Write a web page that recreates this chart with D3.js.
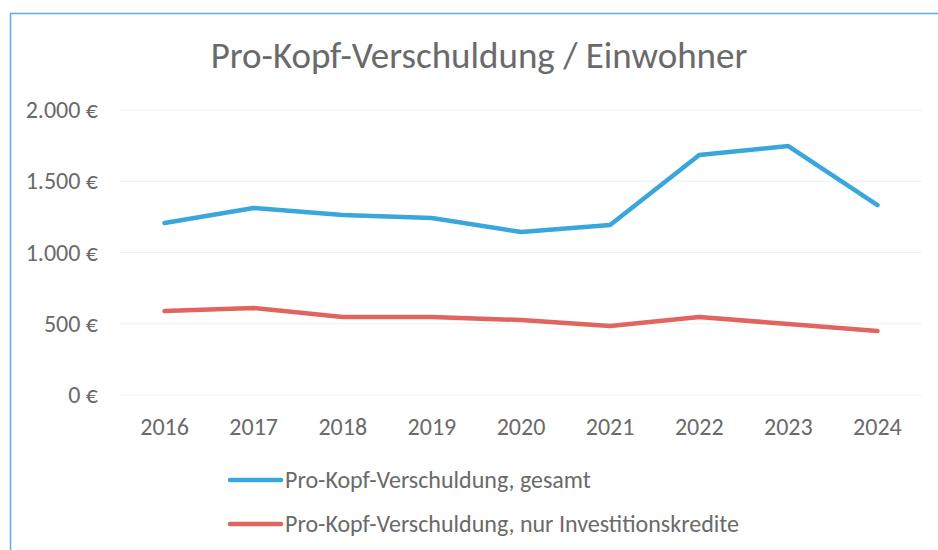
<!DOCTYPE html>
<html>
<head>
<meta charset="utf-8">
<script src="https://cdn.jsdelivr.net/npm/d3@7"></script>
<style>
  html, body { margin: 0; padding: 0; background: #ffffff; }
  svg text { font-family: "Carlito", "Liberation Sans Narrow", "Open Sans", sans-serif; }
</style>
</head>
<body>
<svg id="chart" width="938" height="550"></svg>
<script>
const title = "Pro-Kopf-Verschuldung / Einwohner";
const years = ["2016", "2017", "2018", "2019", "2020", "2021", "2022", "2023", "2024"];
const gesamt = [1207, 1312, 1263, 1242, 1144, 1193, 1684, 1747, 1333];
const investition = [589, 610, 547, 547, 526, 484, 547, 498, 449];
const yTicks = [0, 500, 1000, 1500, 2000];
const seriesNames = ["Pro-Kopf-Verschuldung, gesamt", "Pro-Kopf-Verschuldung, nur Investitionskredite"];
const seriesColors = ["#39a6dc", "#e0655e"];

const svg = d3.select("#chart");
const textColor = "#6a6a6a";

// border (cropped chart frame)
svg.append("path")
  .attr("d", "M10.5,550 L10.5,13.5 L938,13.5")
  .attr("fill", "none")
  .attr("stroke", "#5aaee0")
  .attr("stroke-width", 1.5);

const x = d3.scaleBand().domain(years).range([120, 922]);
const y = d3.scaleLinear().domain([0, 2000]).range([395, 110]);

// gridlines
svg.append("g")
  .selectAll("line")
  .data(yTicks)
  .join("line")
  .attr("x1", 120).attr("x2", 922)
  .attr("y1", d => y(d)).attr("y2", d => y(d))
  .attr("stroke", "#f0f0f0")
  .attr("stroke-width", 1);

const fmt = v => d3.format(",")(v).replace(/,/g, ".") + " €";

// y axis labels
svg.append("g")
  .selectAll("text")
  .data(yTicks)
  .join("text")
  .attr("x", 98)
  .attr("y", d => y(d) + 8)
  .attr("text-anchor", "end")
  .attr("fill", textColor)
  .attr("font-size", 24)
  .text(fmt);

// x axis labels
svg.append("g")
  .selectAll("text")
  .data(years)
  .join("text")
  .attr("x", d => x(d) + x.bandwidth() / 2)
  .attr("y", 435)
  .attr("text-anchor", "middle")
  .attr("fill", textColor)
  .attr("font-size", 24)
  .text(d => d);

// lines
const line = d3.line()
  .x((d, i) => x(years[i]) + x.bandwidth() / 2)
  .y(d => y(d));

[gesamt, investition].forEach((s, k) => {
  svg.append("path")
    .datum(s)
    .attr("d", line)
    .attr("fill", "none")
    .attr("stroke", seriesColors[k])
    .attr("stroke-width", 4.5)
    .attr("stroke-linejoin", "round")
    .attr("stroke-linecap", "round");
});

// title
svg.append("text")
  .attr("x", 479)
  .attr("y", 68)
  .attr("text-anchor", "middle")
  .attr("fill", textColor)
  .attr("font-size", 37)
  .text(title);

// legend
const legendY = [480, 524];
seriesNames.forEach((name, k) => {
  svg.append("line")
    .attr("x1", 230).attr("x2", 281)
    .attr("y1", legendY[k]).attr("y2", legendY[k])
    .attr("stroke", seriesColors[k])
    .attr("stroke-width", 4.5)
    .attr("stroke-linecap", "round");
  svg.append("text")
    .attr("x", 285)
    .attr("y", legendY[k] + 8)
    .attr("fill", textColor)
    .attr("font-size", 24)
    .text(name);
});
</script>
</body>
</html>
